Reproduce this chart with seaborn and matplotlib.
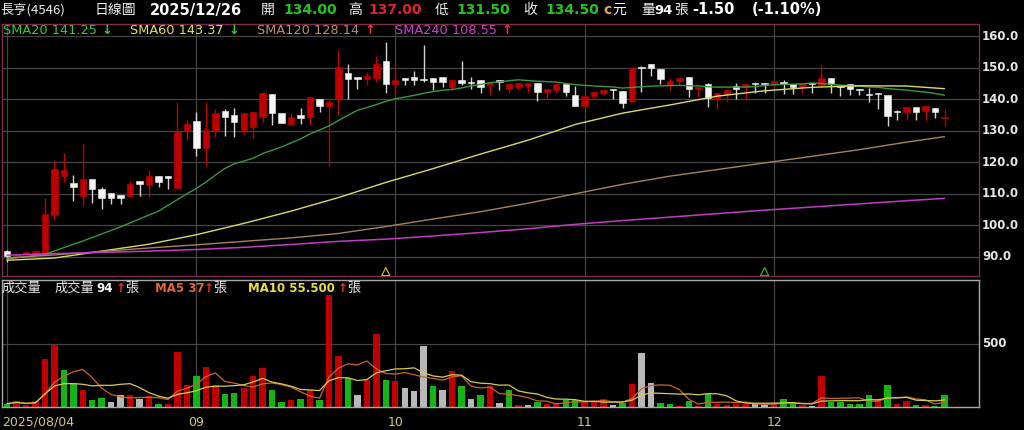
import numpy as np
import pandas as pd
import matplotlib
matplotlib.use("Agg")
import matplotlib.pyplot as plt
import seaborn as sns

# ---- daily candles 2025/08/04 .. 2025/12/26 (100 sessions) ----
opens = [91.8, 90.2, 90.9, 91.0, 91.0, 103.2, 115.7, 113.5, 109.4, 114.6,
         111.5, 110.4, 109.6, 109.4, 114.0, 112.8, 115.6, 115.6, 111.9, 130.0,
         133.2, 124.4, 129.9, 136.2, 135.1, 130.2, 131.3, 134.4, 141.6, 135.5,
         132.3, 135.0, 134.4, 140.1, 137.9, 140.0, 148.2, 147.1, 146.4, 146.9,
         152.2, 144.8, 146.6, 147.1, 146.4, 146.6, 147.1, 143.8, 146.1, 145.4,
         146.1, 144.5, 146.1, 143.4, 144.0, 144.2, 145.2, 142.2, 142.9, 144.7,
         141.3, 137.8, 141.0, 141.9, 143.4, 142.7, 139.4, 150.0, 151.2, 149.6,
         144.5, 145.8, 147.1, 143.4, 144.7, 140.0, 141.6, 144.2, 143.8, 145.1,
         145.1, 144.8, 145.6, 144.7, 143.8, 144.8, 144.5, 146.6, 144.3, 145.0,
         143.4, 141.5, 142.1, 141.5, 136.3, 136.0, 137.6, 136.3, 137.1, 134.0]
highs = [92.0, 90.9, 91.8, 92.2, 108.8, 120.7, 123.1, 115.9, 125.7, 114.6,
         112.2, 110.4, 109.6, 114.1, 114.0, 117.5, 115.6, 115.6, 139.2, 133.4,
         136.0, 139.2, 136.9, 136.9, 137.1, 135.5, 136.0, 142.4, 141.6, 135.5,
         135.5, 137.1, 140.6, 140.1, 139.7, 155.8, 151.2, 147.1, 148.7, 153.7,
         158.3, 150.8, 146.6, 149.0, 157.2, 146.6, 147.1, 146.1, 152.2, 147.1,
         146.1, 145.6, 146.1, 144.8, 145.2, 145.2, 145.2, 143.4, 144.7, 144.7,
         144.2, 141.0, 142.4, 142.9, 143.4, 142.7, 149.8, 150.5, 151.2, 149.6,
         146.9, 146.8, 147.1, 143.8, 145.2, 142.1, 143.1, 145.2, 145.0, 145.1,
         145.1, 145.8, 146.1, 144.7, 144.7, 145.2, 150.8, 146.6, 144.3, 145.0,
         143.4, 143.7, 142.1, 141.5, 136.6, 137.6, 137.6, 137.8, 137.1, 137.0]
lows = [88.4, 89.9, 90.6, 90.8, 90.8, 101.6, 113.8, 107.8, 106.2, 107.2,
        105.3, 106.9, 106.9, 109.4, 109.4, 109.0, 112.2, 111.4, 111.5, 127.0,
        122.0, 118.8, 127.9, 128.3, 127.9, 128.9, 127.8, 132.9, 131.8, 132.5,
        131.8, 132.3, 131.8, 136.0, 118.8, 135.0, 140.0, 143.4, 144.5, 145.6,
        141.9, 141.3, 144.5, 144.5, 145.6, 142.9, 144.0, 143.1, 144.5, 143.4,
        141.9, 141.3, 142.9, 141.9, 142.9, 141.9, 139.4, 140.0, 141.9, 141.0,
        137.8, 137.1, 140.0, 141.3, 140.0, 137.3, 139.2, 142.4, 147.4, 144.8,
        142.9, 144.5, 140.6, 140.6, 137.4, 136.9, 139.2, 140.0, 140.0, 142.1,
        142.1, 144.0, 141.6, 141.6, 141.9, 142.1, 144.0, 141.9, 141.0, 141.3,
        141.5, 139.0, 136.9, 131.5, 133.4, 133.4, 133.4, 133.4, 134.2, 131.5]
closes = [90.2, 90.5, 91.6, 91.9, 103.5, 118.0, 117.5, 112.2, 114.6, 111.4,
          108.8, 108.8, 108.8, 113.1, 113.1, 115.6, 113.8, 114.9, 129.7, 132.1,
          124.4, 130.2, 135.7, 134.4, 132.9, 135.5, 136.0, 141.9, 135.5, 132.5,
          134.4, 133.9, 140.6, 137.9, 139.2, 150.1, 146.4, 146.4, 147.4, 151.2,
          145.0, 146.1, 146.1, 146.1, 146.1, 145.6, 145.6, 146.1, 145.2, 145.2,
          144.0, 145.6, 145.6, 144.8, 145.2, 145.2, 142.4, 143.4, 144.7, 142.4,
          137.8, 141.0, 142.4, 142.9, 142.9, 138.9, 149.8, 149.8, 149.8, 146.4,
          145.8, 146.8, 143.4, 143.8, 140.3, 142.1, 143.1, 143.4, 145.0, 145.0,
          145.0, 145.8, 144.8, 144.0, 144.7, 144.7, 146.6, 144.8, 144.0, 143.4,
          142.9, 141.3, 141.6, 134.8, 136.0, 137.6, 136.0, 137.8, 136.0, 134.5]
volumes = [26, 47, 13, 45, 376, 487, 289, 189, 137, 53,
           74, 39, 97, 97, 66, 84, 21, 26, 434, 176,
           242, 313, 176, 100, 110, 150, 247, 305, 137, 42,
           53, 60, 137, 53, 881, 400, 229, 92, 210, 573,
           216, 205, 153, 124, 479, 166, 132, 287, 166, 66,
           97, 166, 34, 137, 13, 18, 39, 21, 34, 58,
           53, 39, 39, 66, 13, 34, 179, 429, 192, 34,
           21, 10, 45, 5, 100, 26, 18, 26, 26, 21,
           18, 21, 60, 32, 13, 10, 242, 39, 39, 21,
           21, 97, 53, 171, 26, 50, 18, 15, 10, 94]
prev_close = 91.0

month_starts = [0, 20, 41, 61, 81]
month_labels = ["2025/08/04", "09", "10", "11", "12"]

# moving-average lines of the price panel
sma20_early_idx = [0, 4, 8, 12, 16]
sma20_early = [89.3, 90.8, 95.0, 99.5, 104.5]
ma_idx = [0, 5, 10, 15, 20, 25, 30, 35, 40, 45, 50, 55, 60, 65, 70, 75, 80, 85, 90, 95, 99]
sma60 = [88.9, 89.6, 91.8, 94.0, 97.0, 100.6, 104.5, 108.8, 113.6, 118.0, 122.6,
         127.0, 132.0, 135.6, 138.2, 141.0, 142.7, 143.8, 144.3, 144.2, 143.37]
sma120 = [89.6, 90.6, 91.7, 92.8, 93.8, 94.9, 96.0, 97.4, 99.6, 102.0, 104.3,
          107.0, 110.0, 113.0, 115.6, 117.7, 119.8, 121.9, 124.0, 126.4, 128.14]
sma240 = [90.5, 91.0, 91.4, 91.8, 92.3, 93.0, 93.9, 94.9, 95.6, 96.6, 97.7,
          98.9, 100.3, 101.5, 102.6, 103.7, 104.8, 105.8, 106.8, 107.8, 108.55]

price_ticks = [90, 100, 110, 120, 130, 140, 150, 160]
event_idx = [40, 80]
event_colors = ["#c8b060", "#2fae3a"]

# ---- styling ----
sns.set_style("dark", rc={"axes.facecolor": "black", "figure.facecolor": "black",
                          "axes.edgecolor": "#7a2e48", "grid.color": "#454545"})
FONTS = ["DejaVu Sans", "Noto Sans CJK TC"]
CJK = ["Noto Sans CJK TC", "DejaVu Sans"]
plt.rcParams["font.family"] = FONTS

RED = "#c00000"
WHITE = "#f4f4f4"
GREEN_V = "#14b414"
GRAY_V = "#b8b8b8"
GRID = "#454545"

W, H = 1024, 430
fig = plt.figure(figsize=(W / 100, H / 100), dpi=100, facecolor="black")

SP = 9.47
X0 = 7.0
xlim = ((2 - X0) / SP, (979 - X0) / SP)

axp = fig.add_axes([2 / W, 1 - 276 / H, 977 / W, 252 / H])
axv = fig.add_axes([2 / W, 1 - 407 / H, 977 / W, 127 / H])

n = len(closes)
idx = np.arange(n)
o = np.array(opens)
h = np.array(highs)
l = np.array(lows)
c = np.array(closes)
v = np.array(volumes, dtype=float)

# ---- price panel ----
for ax in (axp, axv):
    ax.set_facecolor("black")
    ax.set_xticks(month_starts)
    ax.grid(True, axis="x", color=GRID, lw=0.9)

axp.set_yticks(price_ticks)
axp.grid(True, axis="y", color=GRID, lw=0.9)
axp.set_ylim(83.9, 163.9)
axp.set_xlim(*xlim)
axp.tick_params(length=0, labelleft=False, labelbottom=False)
for s in axp.spines.values():
    s.set_color("#7a2e48")
    s.set_linewidth(1)

is_up = c > o
body_col = np.where(is_up, RED, WHITE)
wick_col = np.where(is_up, RED, "#d4d4d4")
axp.vlines(idx, l, h, colors=wick_col, lw=1, zorder=2)
bottom = np.minimum(o, c)
height = np.maximum(np.abs(c - o), 0.32)
axp.bar(idx, height, bottom=bottom, width=0.68, color=body_col,
        edgecolor=body_col, linewidth=0.4, zorder=2.5)

sma20 = pd.Series(c).rolling(20).mean()
sma20_x = list(sma20_early_idx) + list(range(19, n))
sma20_y = list(sma20_early) + list(sma20.iloc[19:])

sns.lineplot(x=sma20_x, y=sma20_y, ax=axp, color="#379a3f", lw=1, zorder=3)
sns.lineplot(x=ma_idx, y=sma60, ax=axp, color="#d9d96a", lw=1, zorder=3)
sns.lineplot(x=ma_idx, y=sma120, ax=axp, color="#a4825e", lw=1, zorder=3)
sns.lineplot(x=ma_idx, y=sma240, ax=axp, color="#c23cc2", lw=1.1, zorder=3)

axp.scatter(event_idx, [85.3] * len(event_idx), marker="^", s=34,
            facecolors="none", edgecolors=event_colors, linewidths=0.9, zorder=4)
axp.set_xlabel("")
axp.set_ylabel("")

for t in price_ticks:
    axp.text(1.0031, t, f"{t:.1f}", transform=axp.get_yaxis_transform(),
             color="#e6e6e6", fontsize=8.5, fontweight="bold", va="center", ha="left",
             family=FONTS)

# ---- volume panel ----
prev = np.concatenate([[prev_close], c[:-1]])
direction = np.where(np.isclose(c, prev), "flat", np.where(c > prev, "up", "down"))
vdf = pd.DataFrame({"idx": idx, "vol": v, "dir": direction})
sns.barplot(data=vdf, x="idx", y="vol", hue="dir", native_scale=True, dodge=False,
            palette={"up": RED, "down": GREEN_V, "flat": GRAY_V}, errorbar=None,
            width=0.68, saturation=1, legend=False, linewidth=0, ax=axv, zorder=2)

ma5 = vdf["vol"].rolling(5, min_periods=1).mean()
ma10 = vdf["vol"].rolling(10, min_periods=1).mean()
sns.lineplot(x=idx, y=ma5, ax=axv, color="#c8662e", lw=0.9, zorder=3)
sns.lineplot(x=idx, y=ma10, ax=axv, color="#d4cc52", lw=0.9, zorder=3)

axv.set_xlim(*xlim)
axv.set_ylim(0, 1000)
axv.set_yticks([500])
axv.set_xticks(month_starts)
axv.grid(True, axis="both", color=GRID, lw=0.9)
axv.set_xlabel("")
axv.set_ylabel("")
axv.tick_params(axis="y", length=0, labelleft=False)
axv.tick_params(axis="x", direction="out", length=4.5, width=1, color="#c8b868",
                labelbottom=False)
for s in axv.spines.values():
    s.set_color("#a8a8a8")
    s.set_linewidth(1)
axv.text(1.0031, 500, "500", transform=axv.get_yaxis_transform(),
         color="#e6e6e6", fontsize=8.5, fontweight="bold", va="center", ha="left")


def put(x, y, s, color, size=10, weight="normal", family=None):
    fig.text(x / W, 1 - y / H, s, color=color, fontsize=size, fontweight=weight,
             family=family or FONTS, ha="left", va="center")


# month labels under the volume panel
for k, (m, lab) in enumerate(zip(month_starts, month_labels)):
    px = X0 + SP * m
    if k == 0:
        put(2, 422, lab, "#d6c878", size=9)
    else:
        fig.text(px / W, 1 - 422 / H, lab, color="#d6c878", fontsize=9,
                 ha="center", va="center", family=FONTS)

# ---- header ----
HY = 10
G = "#22c422"
put(0, HY, "長亨(4546)", "#f0f0f0", 9.5, family=CJK)
put(95, HY, "日線圖", "#f0f0f0", 10, family=CJK)
put(150, HY, "2025/12/26", "#ffffff", 10.5, "bold")
put(261, HY, "開", "#f0f0f0", 10, family=CJK)
put(283, HY, "134.00", G, 10, "bold")
put(348, HY, "高", "#f0f0f0", 10, family=CJK)
put(368, HY, "137.00", "#e02424", 10, "bold")
put(435, HY, "低", "#f0f0f0", 10, family=CJK)
put(456, HY, "131.50", G, 10, "bold")
put(523, HY, "收", "#f0f0f0", 10, family=CJK)
put(545, HY, "134.50", G, 10, "bold")
put(603, HY, "c", "#d8a860", 10, "bold")
put(612, HY, "元", "#f0f0f0", 10, family=CJK)
put(641, HY, "量", "#f0f0f0", 10, family=CJK)
put(654, HY, "94", "#ffffff", 9.5, "bold")
put(674, HY, "張", "#f0f0f0", 10, family=CJK)
put(692, HY, "-1.50", "#ffffff", 10.5, "bold")
put(752, HY, "(-1.10%)", "#ffffff", 10.5, "bold")

# ---- price legend ----
LY = 30
put(3, LY, "SMA20 141.25", "#2fd02f", 9.3)
put(102, LY, "↓", "#2fd02f", 9.3, "bold")
put(130, LY, "SMA60 143.37", "#e6e63c", 9.3)
put(229, LY, "↓", "#2fd02f", 9.3, "bold")
put(257, LY, "SMA120 128.14", "#b8906a", 9.3)
put(365, LY, "↑", "#ff2a2a", 9.3, "bold")
put(395, LY, "SMA240 108.55", "#d23cd2", 9.3)
put(502, LY, "↑", "#ff2a2a", 9.3, "bold")

# ---- volume legend ----
VY = 288
put(2, VY, "成交量", "#e8e8e8", 9.5, family=CJK)
put(55, VY, "成交量", "#e8e8e8", 9.5, family=CJK)
put(96, VY, "94", "#ffffff", 8.5, "bold")
put(116, VY, "↑", "#ff2a2a", 8.5, "bold")
put(125, VY, "張", "#e8e8e8", 9.5, family=CJK)
put(155, VY, "MA5 37", "#e0683a", 8.5, "bold")
put(204, VY, "↑", "#ff2a2a", 8.5, "bold")
put(213, VY, "張", "#e8e8e8", 9.5, family=CJK)
put(248, VY, "MA10 55.500", "#e8e040", 8.5, "bold")
put(338, VY, "↑", "#ff2a2a", 8.5, "bold")
put(347, VY, "張", "#e8e8e8", 9.5, family=CJK)

fig.savefig("out.png", dpi=100, facecolor="black")
